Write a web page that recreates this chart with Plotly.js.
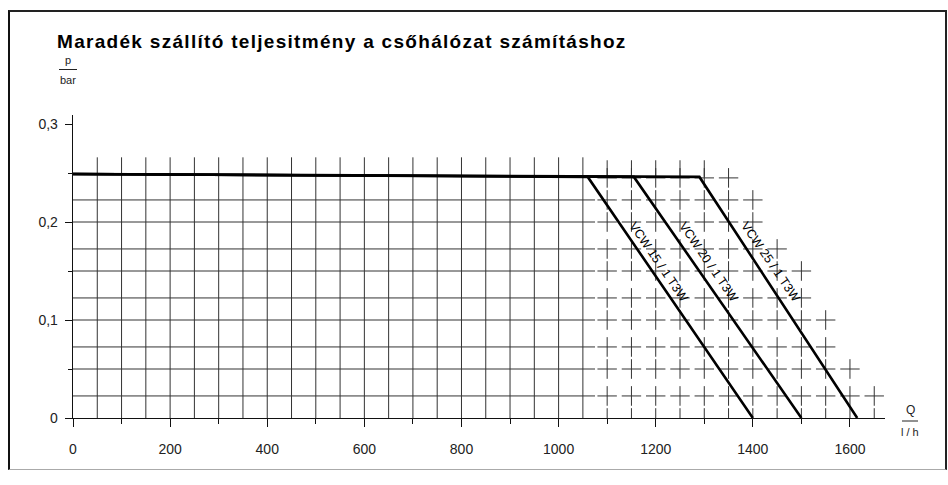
<!DOCTYPE html>
<html><head><meta charset="utf-8">
<script src="https://cdn.plot.ly/plotly-3.0.1.min.js"></script>
<style>
html,body{margin:0;padding:0;background:#fff;}
#chart{position:absolute;left:0;top:0;width:948px;height:485px;}
#frame{position:absolute;left:8px;top:10px;width:939px;height:460px;border-left:2px solid #111;border-top:2px solid #222;border-right:2px solid #222;border-bottom:1px solid #aaa;box-sizing:border-box;pointer-events:none;}
.gtitle{letter-spacing:1.3px;}
</style></head><body>
<div id="chart"></div><div id="frame"></div>
<script>
// ---- data ----
const seriesNames = ['VCW 15 / 1 T3W', 'VCW 20 / 1 T3W', 'VCW 25 / 1 T3W'];
const seriesQ = [[0, 1060, 1400], [0, 1155, 1500], [0, 1290, 1615]];
const seriesP = [[0.249, 0.246, 0], [0.249, 0.246, 0], [0.249, 0.246, 0]];
const labelQ = [1206, 1309, 1437];
const labelP = [0.1595, 0.1595, 0.1595];
const gridRows = [0.0225, 0.05, 0.0725, 0.1, 0.1225, 0.15, 0.1725, 0.2, 0.2225, 0.245];
const rowEnd   = [1650, 1600, 1550, 1550, 1500, 1500, 1450, 1400, 1400, 1350];
const gridCols = [50,100,150,200,250,300,350,400,450,500,550,600,650,700,750,800,850,900,950,1000,1050,1100,1150,1200,1250,1300,1350,1400,1450,1500,1550,1600,1650];
const xTickVals = [0, 200, 400, 600, 800, 1000, 1200, 1400, 1600];
const yTickVals = [0, 0.1, 0.2, 0.3];
const yTickText = ['0', '0,1', '0,2', '0,3'];

// ---- layout geometry ----
const L = 73, R = 63, T = 115, B = 67, W = 948, H = 485;
const pw = W - L - R, ph = H - T - B;
const X = px => (px - L) / pw;
const Y = py => (H - B - py) / ph;
const fullLimit = 1050, gridTop = 0.266, gridH = 50 * 0.4, gridV = 0.025 * 0.4;

// grid built as one line trace with gaps
const gx = [], gy = [];
function seg(x0, y0, x1, y1) { gx.push(x0, x1, null); gy.push(y0, y1, null); }
gridRows.forEach((r, i) => {
  if (r < 0.24) seg(0, r, fullLimit + 25, r);
});
gridCols.forEach(c => {
  if (c <= fullLimit) seg(c, 0, c, gridTop);
  else if (c <= 1300) seg(c, 0.246, c, gridTop - 0.003);
});
gridRows.forEach((r, i) => {
  gridCols.forEach(c => {
    if (c > fullLimit && c <= rowEnd[i]) {
      seg(c - gridH, r, c + gridH, r);
      seg(c, r - gridV, c, r + gridV);
    }
  });
});
gridCols.forEach(c => { if (c > fullLimit) seg(c, 0, c, gridV); });

const traces = [{
  x: gx, y: gy, mode: 'lines', line: {color: '#333', width: 1},
  hoverinfo: 'skip', showlegend: false, connectgaps: false
}];
seriesNames.forEach((n, i) => {
  traces.push({x: seriesQ[i], y: seriesP[i], mode: 'lines', name: n,
    line: {color: '#000', width: 2.6}, showlegend: false});
});

const annotations = seriesNames.map((n, i) => ({
  x: labelQ[i], y: labelP[i], xref: 'x', yref: 'y', text: n, showarrow: false,
  xanchor: 'center', yanchor: 'middle',
  textangle: 55.5, font: {family: 'Liberation Sans, Arial, sans-serif', size: 12.5, color: '#000'}
}));
const small = {family: 'Liberation Sans, Arial, sans-serif', size: 11, color: '#222'};
const ann = (px, py, text, font) => ({xref: 'paper', yref: 'paper', x: X(px), y: Y(py), text: text,
  showarrow: false, xanchor: 'center', yanchor: 'middle', font: font});
annotations.push(
  ann(68, 60, 'p', small),
  ann(68, 80, 'bar', small),
  ann(910, 410, 'Q', {...small, size: 12}),
  ann(910, 432, 'l / h', small)
);
const shapes = [
  {type: 'line', xref: 'paper', yref: 'paper', x0: X(59), x1: X(77), y0: Y(69.5), y1: Y(69.5), line: {color: '#222', width: 1}},
  {type: 'line', xref: 'paper', yref: 'paper', x0: X(902), x1: X(918), y0: Y(421), y1: Y(421), line: {color: '#222', width: 1}}
];

const tickFont = {family: 'Liberation Sans, Arial, sans-serif', size: 14, color: '#222'};
const layout = {
  width: W, height: H, margin: {l: L, r: R, t: T, b: B, pad: 0},
  paper_bgcolor: '#fff', plot_bgcolor: 'rgba(0,0,0,0)',
  separators: ', ',
  title: {text: 'Maradék szállító teljesitmény a csőhálózat számításhoz',
    xref: 'container', yref: 'container', x: 57 / W, xanchor: 'left', y: 1 - 41 / H, yanchor: 'middle',
    font: {family: 'Liberation Sans, Arial, sans-serif', size: 19, color: '#000', weight: 'bold'}},
  xaxis: {range: [0, pw / 0.4856], showgrid: false, zeroline: false, showline: true, linecolor: '#111', linewidth: 1.3,
    ticks: 'outside', ticklen: 8, tickwidth: 1, tickcolor: '#111', tickvals: xTickVals,
    minor: {dtick: 100, tick0: 0, ticks: 'outside', ticklen: 5, tickwidth: 1, tickcolor: '#111', showgrid: false},
    tickfont: tickFont, ticklabelstandoff: 10, fixedrange: true},
  yaxis: {range: [0, ph / 980], showgrid: false, zeroline: false, showline: true, linecolor: '#111', linewidth: 1.3,
    ticks: 'outside', ticklen: 7, tickwidth: 1, tickcolor: '#111', tickvals: yTickVals, ticktext: yTickText,
    minor: {dtick: 0.05, tick0: 0, ticks: 'outside', ticklen: 4, tickwidth: 1, tickcolor: '#111', showgrid: false},
    tickfont: tickFont, ticklabelstandoff: 4, fixedrange: true},
  annotations: annotations, shapes: shapes, showlegend: false
};
Plotly.newPlot('chart', traces, layout, {staticPlot: true, displayModeBar: false});
</script></body></html>
